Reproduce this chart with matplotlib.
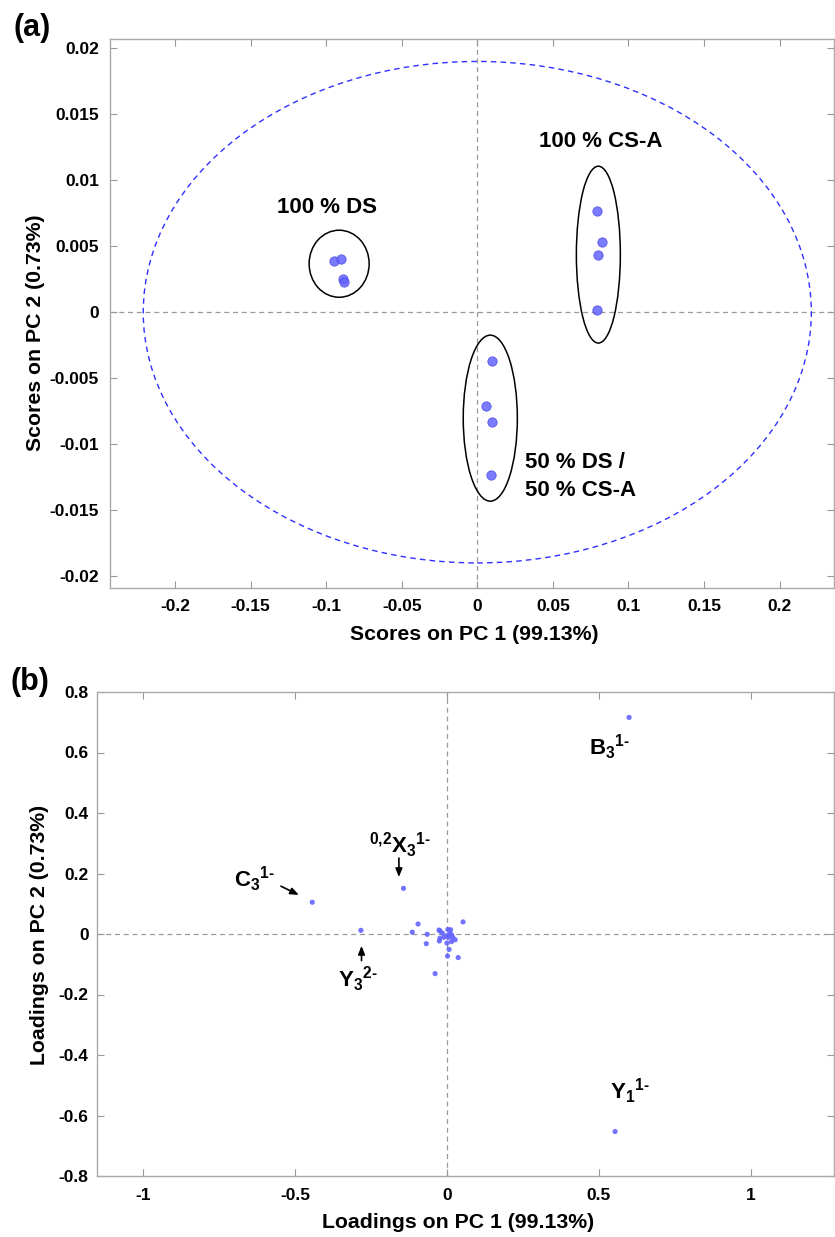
import numpy as np
import matplotlib
matplotlib.use("Agg")
import matplotlib.pyplot as plt
from matplotlib.patches import Ellipse

plt.rcParams['font.family'] = ['Liberation Sans', 'DejaVu Sans']
plt.rcParams['font.weight'] = 'bold'
plt.rcParams['mathtext.fontset'] = 'custom'
plt.rcParams['mathtext.rm'] = 'Liberation Sans:bold'
plt.rcParams['mathtext.it'] = 'Liberation Sans:bold'
plt.rcParams['mathtext.bf'] = 'Liberation Sans:bold'
plt.rcParams['mathtext.default'] = 'rm'

# scores (panel a)
ds_x = [-0.0947, -0.0900, -0.0887, -0.0883]
ds_y = [0.0039, 0.0040, 0.0025, 0.0023]
cs_x = [0.0795, 0.0828, 0.0801, 0.0795]
cs_y = [0.0077, 0.0053, 0.0043, 0.0002]
mix_x = [0.0099, 0.0060, 0.0099, 0.0088]
mix_y = [-0.0037, -0.0071, -0.0083, -0.0123]

# group ellipses: centre x, centre y, width, height
groups = {
    '100 % DS': (-0.0914, 0.00367, 0.0397, 0.00508),
    '100 % CS-A': (0.0801, 0.00436, 0.0291, 0.0134),
    '50 % DS /\n50 % CS-A': (0.0086, -0.00803, 0.0358, 0.01258),
}
conf_w, conf_h = 0.442, 0.038

# loadings (panel b)
load_x = [0.599, 0.553, -0.443, -0.143, -0.283, -0.095, -0.114, -0.065, -0.068,
          -0.039, 0.053, 0.037, 0.002, 0.007, 0.000, -0.025, -0.023, -0.026,
          -0.023, -0.015, 0.003, 0.012, 0.010, 0.015, 0.000, 0.019, 0.027,
          0.015, 0.005, -0.010]
load_y = [0.716, -0.653, 0.105, 0.151, 0.012, 0.033, 0.006, -0.001, -0.032,
          -0.131, 0.040, -0.078, -0.073, -0.051, -0.030, -0.023, -0.014, 0.013,
          0.010, 0.003, 0.015, 0.014, 0.002, -0.003, -0.005, -0.011, -0.019,
          -0.025, -0.011, -0.011]

fig = plt.figure(figsize=(8.35, 12.37), dpi=100)
W, H = 835, 1237

def px_axes(l, t, r, b):
    return fig.add_axes([l / W, 1 - b / H, (r - l) / W, (b - t) / H])

def fmt(nd):
    def f(v, p):
        v = round(v, nd)
        return '0' if v == 0 else '%g' % v
    return f

def style(ax, pad):
    for s in ax.spines.values():
        s.set_color('#aaaaaa')
        s.set_linewidth(1.0)
    ax.tick_params(direction='in', top=True, right=True, length=5, width=0.8,
                   color='#999999', labelsize=12.5, pad=pad)
    ax.axhline(0, color='#999999', ls=(0, (4, 3)), lw=0.9, zorder=1)
    ax.axvline(0, color='#999999', ls=(0, (4, 3)), lw=0.9, zorder=1)

pt_col = '#6464ff'

# ---- panel a
ax1 = px_axes(110, 39, 834, 588)
style(ax1, 8)
ax1.set_xlim(-0.243, 0.236)
ax1.set_ylim(-0.0209, 0.0207)
ax1.set_xticks(np.arange(-0.2, 0.2001, 0.05))
ax1.set_yticks(np.arange(-0.02, 0.02001, 0.005))
ax1.xaxis.set_major_formatter(fmt(3))
ax1.yaxis.set_major_formatter(fmt(4))

ax1.add_patch(Ellipse((0, 0), conf_w, conf_h, fill=False, ec='#3030ff',
                      ls=(0, (4, 3)), lw=1.0, zorder=2))
for (cx, cy, w, h) in groups.values():
    ax1.add_patch(Ellipse((cx, cy), w, h, fill=False, ec='black', lw=1.1, zorder=3))
for xs, ys in [(ds_x, ds_y), (cs_x, cs_y), (mix_x, mix_y)]:
    ax1.scatter(xs, ys, s=45, color=pt_col, alpha=0.85, edgecolor='#4a4ae0',
                linewidth=0.6, zorder=4)

ax1.text(-0.0993, 0.00795, '100 % DS', ha='center', va='center', fontsize=16)
ax1.text(0.0815, 0.0129, '100 % CS-A', ha='center', va='center', fontsize=16)
ax1.text(0.0318, -0.01246, '50 % DS /\n50 % CS-A', ha='left', va='center',
         fontsize=16, linespacing=1.4)

fig.text(474 / W, 1 - 635 / H, 'Scores on PC 1 (99.13%)', ha='center',
         va='center', fontsize=15.3)
fig.text(36 / W, 1 - 333 / H, 'Scores on PC 2 (0.73%)', ha='center',
         va='center', fontsize=15.3, rotation=90)
fig.text(32 / W, 1 - 28 / H, '(a)', ha='center', va='center', fontsize=22)

# ---- panel b
ax2 = px_axes(97, 692, 834, 1176)
style(ax2, 6)
ax2.set_xlim(-1.151, 1.273)
ax2.set_ylim(-0.8, 0.8)
ax2.set_xticks([-1, -0.5, 0, 0.5, 1])
ax2.set_yticks(np.arange(-0.8, 0.801, 0.2))
ax2.xaxis.set_major_formatter(fmt(2))
ax2.yaxis.set_major_formatter(fmt(2))
ax2.tick_params(axis='x', pad=9)

ax2.scatter(load_x, load_y, s=14, color=pt_col, alpha=0.9, edgecolor='none', zorder=4)

fs = 16
ax2.text(0.536, 0.617, r'B$_3$$^{\text{1-}}$', ha='center', va='center', fontsize=fs)
ax2.text(0.602, -0.521, r'Y$_1$$^{\text{1-}}$', ha='center', va='center', fontsize=fs)
ax2.text(-0.632, 0.18, r'C$_3$$^{\text{1-}}$', ha='center', va='center', fontsize=fs)
ax2.text(-0.155, 0.294, r'$^{\text{0,2}}$X$_3$$^{\text{1-}}$', ha='center', va='center',
         fontsize=fs)
ax2.text(-0.293, -0.149, r'Y$_3$$^{\text{2-}}$', ha='center', va='center', fontsize=fs)

arw = dict(arrowstyle='-|>,head_length=0.5,head_width=0.2', color='black', lw=1.2,
           shrinkA=0, shrinkB=0)
ax2.annotate('', xy=(-0.487, 0.129), xytext=(-0.546, 0.158), arrowprops=arw)
ax2.annotate('', xy=(-0.158, 0.188), xytext=(-0.158, 0.251), arrowprops=arw)
ax2.annotate('', xy=(-0.281, -0.039), xytext=(-0.281, -0.088), arrowprops=arw)

fig.text(458 / W, 1 - 1223 / H, 'Loadings on PC 1 (99.13%)', ha='center',
         va='center', fontsize=15.3)
fig.text(40 / W, 1 - 935 / H, 'Loadings on PC 2 (0.73%)', ha='center',
         va='center', fontsize=15.3, rotation=90)
fig.text(30 / W, 1 - 682 / H, '(b)', ha='center', va='center', fontsize=22)

fig.savefig('out.png', dpi=100)
